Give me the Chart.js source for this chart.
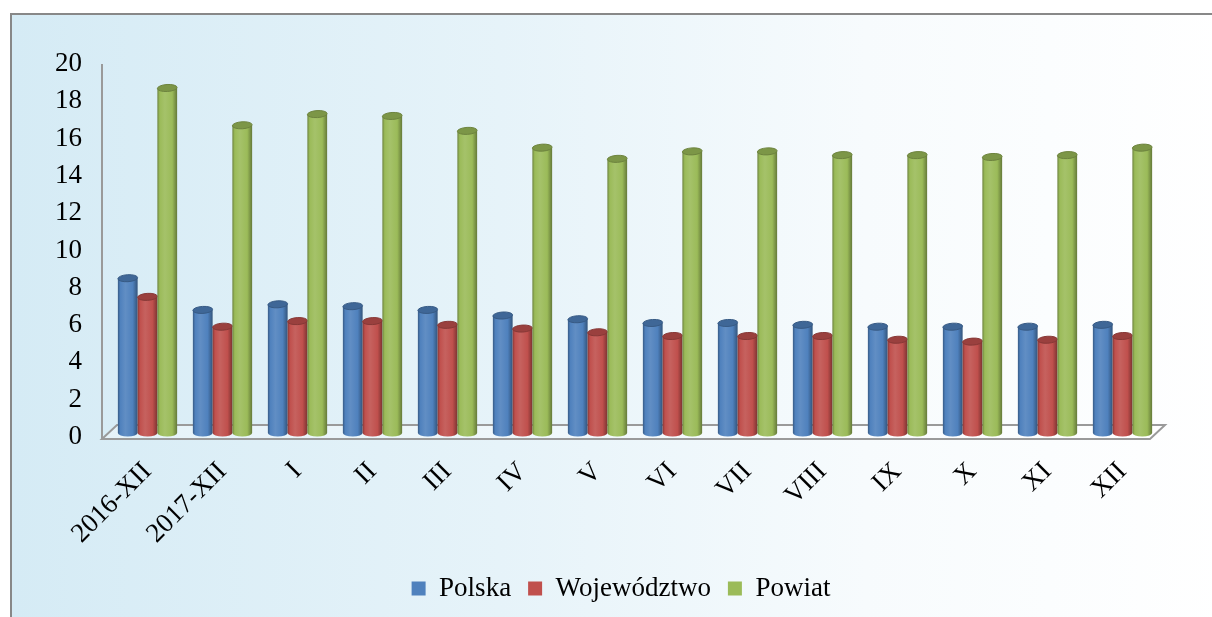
<!DOCTYPE html>
<html>
<head>
<meta charset="utf-8">
<script src="https://cdn.jsdelivr.net/npm/chart.js@4.4.0/dist/chart.umd.min.js"></script>
<style>
  html, body { margin: 0; padding: 0; background: #fff; }
  body { width: 1212px; height: 617px; position: relative; overflow: hidden; }
  #frame {
    position: absolute; left: 10px; top: 13px; width: 1220px; height: 620px;
    border-left: 2px solid #888; border-top: 2px solid #888;
    background: linear-gradient(to right, #d5ebf5 0%, #e6f3f9 40%, #f7fbfd 70%, #ffffff 100%);
  }
  #myChart { position: absolute; left: 0; top: 0; }
</style>
</head>
<body>
<div id="frame"></div>
<canvas id="myChart" width="1212" height="617"></canvas>
<script>
const categories = ['2016-XII', '2017-XII', 'I', 'II', 'III', 'IV', 'V', 'VI', 'VII', 'VIII', 'IX', 'X', 'XI', 'XII'];
const polska      = [8.3, 6.6, 6.9, 6.8, 6.6, 6.3, 6.1, 5.9, 5.9, 5.8, 5.7, 5.7, 5.7, 5.8];
const wojewodztwo = [7.3, 5.7, 6.0, 6.0, 5.8, 5.6, 5.4, 5.2, 5.2, 5.2, 5.0, 4.9, 5.0, 5.2];
const powiat      = [18.5, 16.5, 17.1, 17.0, 16.2, 15.3, 14.7, 15.1, 15.1, 14.9, 14.9, 14.8, 14.9, 15.3];
const yTicks = [0, 2, 4, 6, 8, 10, 12, 14, 16, 18, 20];

const colors = ['#4f81bd', '#c0504d', '#9bbb59'];

const shade = (hex, amt)=>{
    let r = parseInt(hex.slice(1, 3), 16), g = parseInt(hex.slice(3, 5), 16), b = parseInt(hex.slice(5, 7), 16);
    const f = (c)=> Math.round(amt < 0 ? c * (1 + amt) : c + (255 - c) * amt);
    return 'rgb(' + f(r) + ',' + f(g) + ',' + f(b) + ')';
};

// floor + axis in pseudo 3D
const floorPlugin = {
    id: 'floor',
    afterLayout(chart) {
        // move the legend so it is centred on the page like the original
        chart.legend.left += 41;
        chart.legend.right += 41;
    },
    beforeDatasetsDraw(chart) {
        const {ctx, chartArea} = chart;
        const y0 = chart.scales.y.getPixelForValue(0);
        const yTop = chart.scales.y.getPixelForValue(20);
        const left = chartArea.left - 8, right = chartArea.right - 10;
        ctx.save();
        ctx.strokeStyle = '#9a9a9a';
        ctx.lineWidth = 2;
        ctx.beginPath();
        ctx.moveTo(left, y0 + 2);
        ctx.lineTo(left + 15, y0 - 12);
        ctx.lineTo(right + 15, y0 - 12);
        ctx.lineTo(right, y0 + 2);
        ctx.closePath();
        ctx.fillStyle = 'rgba(255,255,255,0.35)';
        ctx.fill();
        ctx.stroke();
        ctx.beginPath();
        ctx.moveTo(left, yTop);
        ctx.lineTo(left, y0 + 2);
        ctx.stroke();
        ctx.restore();
    }
};

// cylinders drawn from the bar elements (raised a little for the depth)
const cylinderPlugin = {
    id: 'cylinders',
    beforeDatasetsDraw(chart) {
        const ctx = chart.ctx;
        ctx.save();
        const n = chart.data.labels.length;
        for (let i = 0; i < n; i++) {
            chart.data.datasets.forEach((ds, d)=>{
                const bar = chart.getDatasetMeta(d).data[i];
                const color = colors[d];
                const w = bar.width, r = w / 2, ry = 3.5;
                const x = bar.x, top = bar.y - 4, base = bar.base - 4;
                const g = ctx.createLinearGradient(x - r, 0, x + r, 0);
                g.addColorStop(0, shade(color, -0.3));
                g.addColorStop(0.12, color);
                g.addColorStop(0.38, shade(color, 0.1));
                g.addColorStop(0.75, color);
                g.addColorStop(1, shade(color, -0.35));
                ctx.fillStyle = g;
                ctx.beginPath();
                ctx.moveTo(x - r, top);
                ctx.lineTo(x - r, base);
                ctx.ellipse(x, base, r, ry, 0, Math.PI, 0, true);
                ctx.lineTo(x + r, top);
                ctx.closePath();
                ctx.fill();
                ctx.beginPath();
                ctx.ellipse(x, top, r, ry, -0.06, 0, Math.PI * 2);
                ctx.fillStyle = shade(color, -0.2);
                ctx.fill();
                ctx.strokeStyle = shade(color, -0.3);
                ctx.lineWidth = 1;
                ctx.stroke();
            });
        }
        ctx.restore();
        return false;
    }
};

const ctx = document.getElementById('myChart').getContext('2d');
const myChart = new Chart(ctx, {
    type: 'bar',
    data: {
        labels: categories,
        datasets: [
            { label: 'Polska', data: polska, backgroundColor: colors[0] },
            { label: 'Województwo', data: wojewodztwo, backgroundColor: colors[1] },
            { label: 'Powiat', data: powiat, backgroundColor: colors[2] }
        ]
    },
    options: {
        responsive: false,
        animation: false,
        maintainAspectRatio: false,
        layout: { padding: { top: 64, right: 52, bottom: 5, left: 0 } },
        datasets: { bar: { categoryPercentage: 0.79, barPercentage: 1.0 } },
        scales: {
            x: {
                grid: { display: false },
                border: { display: false },
                ticks: {
                    color: '#000',
                    font: { family: 'Liberation Serif', size: 27 },
                    minRotation: 45, maxRotation: 45,
                    autoSkip: false,
                    padding: 11
                },
                afterFit: (scale)=>{ scale.height = 121; }
            },
            y: {
                min: 0, max: 20,
                grid: { display: false, drawTicks: false },
                border: { display: false },
                afterBuildTicks: (scale)=>{ scale.ticks = yTicks.map(v=>({ value: v })); },
                ticks: {
                    color: '#000',
                    font: { family: 'Liberation Serif', size: 27 },
                    padding: 28
                },
                afterFit: (scale)=>{ scale.width = 110; }
            }
        },
        plugins: {
            legend: {
                position: 'bottom',
                labels: {
                    color: '#000',
                    font: { family: 'Liberation Serif', size: 27 },
                    boxWidth: 14, boxHeight: 14,
                    padding: 17
                }
            },
            tooltip: { enabled: false }
        }
    },
    plugins: [floorPlugin, cylinderPlugin]
});
</script>
</body>
</html>
